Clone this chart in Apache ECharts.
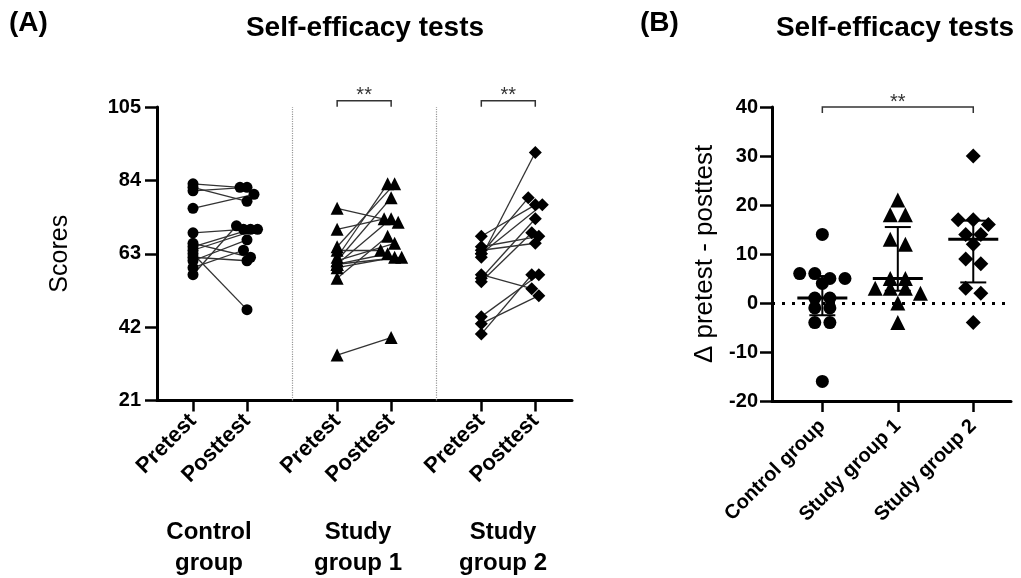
<!DOCTYPE html>
<html>
<head>
<meta charset="utf-8">
<script src="https://cdn.jsdelivr.net/npm/echarts@6/dist/echarts.min.js"></script>
<style>
  html, body { margin: 0; padding: 0; background: #fff; }
  #chart { width: 1021px; height: 578px; }
</style>
</head>
<body>
<div id="chart"></div>
<script>
// categories
const groupNames = ['Control group', 'Study group 1', 'Study group 2']
const testNames = ['Pretest', 'Posttest']
const scoreTicks = [21, 42, 63, 84, 105]
const deltaTicks = [-20, -10, 0, 10, 20, 30, 40]

// panel A: paired scores (same index = same participant)
const controlPre = [83, 82, 81, 76, 69, 66, 65, 64, 63, 62, 61, 59, 57]
const controlPost = [82, 78, 82, 80, 70, 62, 70, 70, 47, 61, 67, 64, 71]
const study1Pre = [34, 76, 70, 62, 65, 61, 60, 56, 61, 60, 59, 60, 64]
const study1Post = [39, 72, 73, 83, 83, 79, 73, 68, 66, 63, 62, 62, 64]
const study2Pre = [62, 57, 40, 45, 43, 68, 65, 64, 63, 63, 56, 55]
const study2Post = [92, 53, 57, 57, 51, 77, 68, 66, 79, 77, 73, 69]

// panel B: change per participant
const controlDelta = [14, 6, 6, 5, 5, 4, 1, 1, -1, -1, -4, -4, -16]
const study1Delta = [21, 18, 18, 13, 12, 5, 5, 3, 3, 3, 2, 0, -4]
const study2Delta = [30, 17, 17, 16, 14, 14, 12, 9, 8, 3, 2, -4]

// median and interquartile range bars of panel B
const deltaMedian = [1, 5, 13]
const deltaQ1 = [-2.5, 2.5, 4.2]
const deltaQ3 = [5.5, 15.5, 16.8]

const FONT = '"Liberation Sans", Arial, sans-serif'
const posA = [[1, 2], [3.67, 4.67], [6.34, 7.34]]
const ticksA = posA.flat()
const posB = [1, 2, 3]

// spread close values sideways (beeswarm-like)
function swarm(values, gap) {
  const order = values.map((v, i) => i).sort((a, b) => values[b] - values[a])
  const off = new Array(values.length).fill(0)
  let i = 0
  while (i < order.length) {
    let j = i
    while (j + 1 < order.length && values[order[i]] - values[order[j + 1]] <= gap) j++
    const n = j - i + 1
    for (let k = 0; k < n; k++) off[order[i + k]] = k - (n - 1) / 2
    i = j + 1
  }
  return off
}

const panelA = [
  { pre: controlPre, post: controlPost, symbol: 'circle', size: 11 },
  { pre: study1Pre, post: study1Post, symbol: 'triangle', size: 13 },
  { pre: study2Pre, post: study2Post, symbol: 'diamond', size: 13 }
]
const panelB = [
  { values: controlDelta, symbol: 'circle', size: 13 },
  { values: study1Delta, symbol: 'triangle', size: 15 },
  { values: study2Delta, symbol: 'diamond', size: 15 }
]

const series = []

panelA.forEach((g, gi) => {
  const xPre = posA[gi][0]
  const xPost = posA[gi][1]
  const off = swarm(g.post, 2.5)
  const postPts = g.post.map((v, i) => [xPost + off[i] * 0.13, v])
  series.push({
    type: 'lines',
    coordinateSystem: 'cartesian2d',
    xAxisIndex: 0,
    yAxisIndex: 0,
    silent: true,
    z: 2,
    lineStyle: { color: '#333', width: 1.3, opacity: 1 },
    data: g.pre.map((v, i) => ({ coords: [[xPre, v], postPts[i]] }))
  })
  series.push({
    type: 'scatter',
    xAxisIndex: 0,
    yAxisIndex: 0,
    symbol: g.symbol,
    symbolSize: g.size,
    itemStyle: { color: '#000', opacity: 1 },
    z: 3,
    data: g.pre.map(v => [xPre, v]).concat(postPts),
    markLine: gi === 0 ? {
      silent: true,
      symbol: 'none',
      label: { show: false },
      lineStyle: { type: 'dotted', color: '#999', width: 1.2 },
      data: [{ xAxis: (posA[0][1] + posA[1][0]) / 2 }, { xAxis: (posA[1][1] + posA[2][0]) / 2 }]
    } : undefined
  })
})

panelB.forEach((g, gi) => {
  const off = swarm(g.values, 1.5)
  series.push({
    type: 'scatter',
    xAxisIndex: 1,
    yAxisIndex: 1,
    symbol: g.symbol,
    symbolSize: g.size,
    itemStyle: { color: '#000', opacity: 1 },
    z: 3,
    data: g.values.map((v, i) => [posB[gi] + off[i] * 0.2, v]),
    markLine: gi === 0 ? {
      silent: true,
      symbol: 'none',
      label: { show: false },
      lineStyle: { type: [3, 7], color: '#000', width: 3 },
      data: [{ yAxis: 0 }]
    } : undefined
  })
})

// median with interquartile range
series.push({
  type: 'custom',
  xAxisIndex: 1,
  yAxisIndex: 1,
  z: 4,
  silent: true,
  data: posB.map((x, i) => [x, deltaMedian[i], deltaQ1[i], deltaQ3[i]]),
  renderItem(params, api) {
    const x = api.value(0)
    const m = api.coord([x, api.value(1)])
    const lo = api.coord([x, api.value(2)])
    const hi = api.coord([x, api.value(3)])
    const st = { stroke: '#000', lineWidth: 2 }
    return {
      type: 'group',
      children: [
        { type: 'line', shape: { x1: m[0] - 25, y1: m[1], x2: m[0] + 25, y2: m[1] }, style: { stroke: '#000', lineWidth: 3 } },
        { type: 'line', shape: { x1: lo[0], y1: lo[1], x2: hi[0], y2: hi[1] }, style: st },
        { type: 'line', shape: { x1: lo[0] - 13, y1: lo[1], x2: lo[0] + 13, y2: lo[1] }, style: st },
        { type: 'line', shape: { x1: hi[0] - 13, y1: hi[1], x2: hi[0] + 13, y2: hi[1] }, style: st }
      ]
    }
  }
})

// significance brackets
function bracketSeries(axis, data) {
  return {
    type: 'custom',
    xAxisIndex: axis,
    yAxisIndex: axis,
    silent: true,
    clip: false,
    z: 5,
    data: data,
    renderItem(params, api) {
      const a = api.coord([api.value(0), api.value(2)])
      const b = api.coord([api.value(1), api.value(2)])
      return {
        type: 'group',
        children: [
          { type: 'polyline', shape: { points: [[a[0], a[1] + 6], a, b, [b[0], b[1] + 6]] }, style: { stroke: '#333', lineWidth: 1.5, fill: null } },
          { type: 'text', x: (a[0] + b[0]) / 2, y: a[1] + 5, style: { text: '**', font: '20px ' + FONT, fill: '#333', align: 'center', verticalAlign: 'bottom' } }
        ]
      }
    }
  }
}
series.push(bracketSeries(0, [[posA[1][0], posA[1][1], 106.8], [posA[2][0], posA[2][1], 106.8]]))
series.push(bracketSeries(1, [[posB[0], posB[2], 40]]))

const axisLine = { show: true, onZero: false, lineStyle: { color: '#000', width: 3 } }
const tickStyle = { color: '#000', width: 2.5 }
const labelStyle = { color: '#000', fontWeight: 'bold', fontFamily: FONT }

const chart = echarts.init(document.getElementById('chart'), null, { renderer: 'canvas' })
chart.setOption({
  animation: false,
  backgroundColor: '#fff',
  grid: [
    { left: 157, right: 449, top: 107, bottom: 177.5 },
    { left: 772, right: 10, top: 107, bottom: 177 }
  ],
  xAxis: [{
    gridIndex: 0,
    type: 'value',
    min: 0.333,
    max: 8.02,
    axisLine: axisLine,
    splitLine: { show: false },
    axisTick: { show: true, customValues: ticksA, length: 11, lineStyle: tickStyle },
    axisLabel: {
      customValues: ticksA,
      rotate: 45,
      margin: 17,
      fontSize: 22,
      ...labelStyle,
      formatter: v => testNames[ticksA.findIndex(t => Math.abs(t - v) < 1e-6) % 2]
    }
  }, {
    gridIndex: 1,
    type: 'value',
    min: 0.333,
    max: 3.5,
    axisLine: axisLine,
    splitLine: { show: false },
    axisTick: { show: true, customValues: posB, length: 11, lineStyle: tickStyle },
    axisLabel: {
      customValues: posB,
      rotate: 45,
      margin: 22,
      fontSize: 20,
      ...labelStyle,
      formatter: v => groupNames[posB.indexOf(v)]
    }
  }],
  yAxis: [{
    gridIndex: 0,
    type: 'value',
    min: scoreTicks[0],
    max: scoreTicks[scoreTicks.length - 1],
    interval: 21,
    name: 'Scores',
    nameLocation: 'middle',
    nameGap: 84,
    nameTextStyle: { fontSize: 25, color: '#000', fontFamily: FONT },
    axisLine: axisLine,
    splitLine: { show: false },
    axisTick: { show: true, length: 12, lineStyle: tickStyle },
    axisLabel: { fontSize: 20, margin: 16, ...labelStyle }
  }, {
    gridIndex: 1,
    type: 'value',
    min: deltaTicks[0],
    max: deltaTicks[deltaTicks.length - 1],
    interval: 10,
    name: 'Δ pretest - posttest',
    nameLocation: 'middle',
    nameGap: 54,
    nameTextStyle: { fontSize: 26, color: '#000', fontFamily: FONT },
    axisLine: axisLine,
    splitLine: { show: false },
    axisTick: { show: true, length: 12, lineStyle: tickStyle },
    axisLabel: { fontSize: 20, margin: 14, ...labelStyle }
  }],
  graphic: [
    { type: 'text', x: 9, y: 23, style: { text: '(A)', font: 'bold 28px ' + FONT, fill: '#000', align: 'left', verticalAlign: 'middle' } },
    { type: 'text', x: 365, y: 28, style: { text: 'Self-efficacy tests', font: 'bold 28px ' + FONT, fill: '#000', align: 'center', verticalAlign: 'middle' } },
    { type: 'text', x: 640, y: 23, style: { text: '(B)', font: 'bold 28px ' + FONT, fill: '#000', align: 'left', verticalAlign: 'middle' } },
    { type: 'text', x: 895, y: 28, style: { text: 'Self-efficacy tests', font: 'bold 28px ' + FONT, fill: '#000', align: 'center', verticalAlign: 'middle' } },
    { type: 'text', x: 209, y: 532, style: { text: 'Control', font: 'bold 24px ' + FONT, fill: '#000', align: 'center', verticalAlign: 'middle' } },
    { type: 'text', x: 209, y: 563, style: { text: 'group', font: 'bold 24px ' + FONT, fill: '#000', align: 'center', verticalAlign: 'middle' } },
    { type: 'text', x: 358, y: 532, style: { text: 'Study', font: 'bold 24px ' + FONT, fill: '#000', align: 'center', verticalAlign: 'middle' } },
    { type: 'text', x: 358, y: 563, style: { text: 'group 1', font: 'bold 24px ' + FONT, fill: '#000', align: 'center', verticalAlign: 'middle' } },
    { type: 'text', x: 503, y: 532, style: { text: 'Study', font: 'bold 24px ' + FONT, fill: '#000', align: 'center', verticalAlign: 'middle' } },
    { type: 'text', x: 503, y: 563, style: { text: 'group 2', font: 'bold 24px ' + FONT, fill: '#000', align: 'center', verticalAlign: 'middle' } }
  ],
  series: series
})
</script>
</body>
</html>
